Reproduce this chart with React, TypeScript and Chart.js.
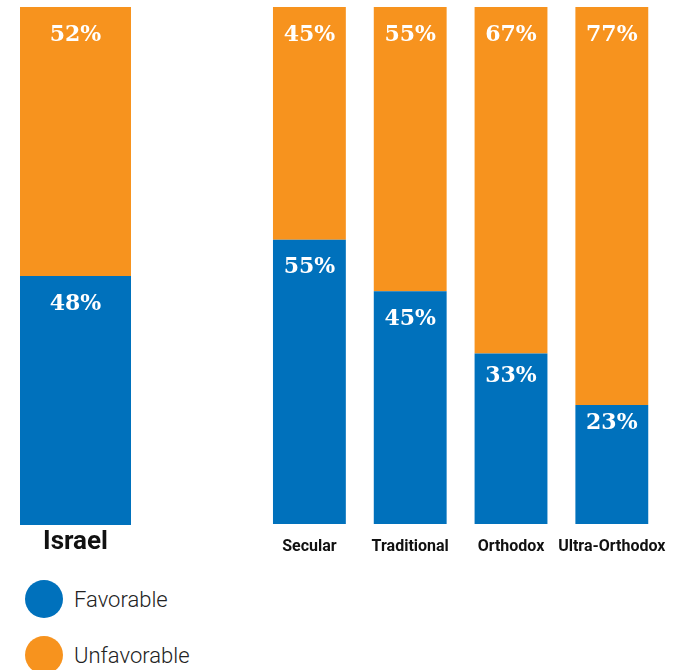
import React, { useEffect, useRef } from "react";
import { Chart, registerables } from "chart.js";

Chart.register(...registerables);

const BLUE = "#0071bc";
const ORANGE = "#f7931e";

const overallCategories = ["Israel"];
const overallFavorable = [48];
const overallUnfavorable = [52];

const groupCategories = ["Secular", "Traditional", "Orthodox", "Ultra-Orthodox"];
const groupFavorable = [55, 45, 33, 23];
const groupUnfavorable = [45, 55, 67, 77];

const legendItems = [
  { label: "Favorable", color: BLUE },
  { label: "Unfavorable", color: ORANGE },
];

const valueLabelPlugin = {
  id: "valueLabels",
  afterDatasetsDraw(chart: any) {
    const ctx = chart.ctx;
    ctx.save();
    ctx.fillStyle = "#ffffff";
    ctx.font = "bold 22px 'DejaVu Serif', 'Liberation Serif', serif";
    ctx.textAlign = "center";
    ctx.textBaseline = "middle";
    chart.data.datasets.forEach((ds: any, di: number) => {
      const meta = chart.getDatasetMeta(di);
      meta.data.forEach((el: any, i: number) => {
        const v = ds.data[i];
        const h = Math.abs(el.base - el.y);
        const off = Math.min(28, 6 + 0.1 * h);
        ctx.fillText(v + "%", el.x, el.y + off);
      });
    });
    ctx.restore();
  },
};

function makeConfig(
  labels: string[],
  fav: number[],
  unfav: number[],
  barPct: number,
  tickFont: any,
  tickPad: number,
  padding: any
): any {
  return {
    type: "bar",
    data: {
      labels,
      datasets: [
        {
          label: "Favorable",
          data: fav,
          backgroundColor: BLUE,
          borderWidth: 0,
          barPercentage: barPct,
          categoryPercentage: 1,
        },
        {
          label: "Unfavorable",
          data: unfav,
          backgroundColor: ORANGE,
          borderWidth: 0,
          barPercentage: barPct,
          categoryPercentage: 1,
        },
      ],
    },
    options: {
      animation: false,
      responsive: false,
      maintainAspectRatio: false,
      layout: { padding },
      plugins: {
        legend: { display: false },
        tooltip: { enabled: false },
      },
      scales: {
        x: {
          stacked: true,
          grid: { display: false, drawTicks: false },
          border: { display: false },
          ticks: {
            color: "#111111",
            font: tickFont,
            padding: tickPad,
            maxRotation: 0,
            autoSkip: false,
          },
        },
        y: {
          stacked: true,
          display: false,
          min: 0,
          max: 100,
        },
      },
    },
    plugins: [valueLabelPlugin],
  };
}

function BarChart(props: { config: any; width: number; height: number; style: any }) {
  const ref = useRef<HTMLCanvasElement>(null);
  useEffect(() => {
    if (!ref.current) return;
    const chart = new Chart(ref.current, props.config);
    return () => chart.destroy();
  }, []);
  return (
    <canvas
      ref={ref}
      width={props.width}
      height={props.height}
      style={{ position: "absolute", width: props.width, height: props.height, ...props.style }}
    />
  );
}

export default function App() {
  const cfg1 = makeConfig(
    overallCategories,
    overallFavorable,
    overallUnfavorable,
    1,
    { family: "Roboto, sans-serif", weight: "bold", size: 26, lineHeight: 1 },
    4,
    { left: 20, right: 29, top: 7, bottom: 9 }
  );
  const cfg2 = makeConfig(
    groupCategories,
    groupFavorable,
    groupUnfavorable,
    73 / 101,
    { family: "Roboto, sans-serif", weight: "bold", size: 16, lineHeight: 1 },
    15,
    { left: 19, right: 20, top: 7, bottom: 9 }
  );
  return (
    <div
      style={{
        position: "absolute",
        left: 0,
        top: 0,
        width: 683,
        height: 670,
        background: "#ffffff",
        overflow: "hidden",
      }}
    >
      <BarChart config={cfg1} width={160} height={568} style={{ left: 0, top: 0 }} />
      <BarChart config={cfg2} width={443} height={579} style={{ left: 240, top: 0 }} />
      {legendItems.map((item, i) => (
        <div
          key={item.label}
          style={{
            position: "absolute",
            left: 25,
            top: 580 + i * 56,
            height: 38,
            display: "flex",
            alignItems: "center",
          }}
        >
          <div
            style={{
              width: 38,
              height: 38,
              borderRadius: "50%",
              background: item.color,
            }}
          />
          <span
            style={{
              marginLeft: 11,
              fontFamily: "Roboto, sans-serif",
              fontWeight: 300,
              fontSize: 22,
              color: "#222222",
            }}
          >
            {item.label}
          </span>
        </div>
      ))}
    </div>
  );
}
